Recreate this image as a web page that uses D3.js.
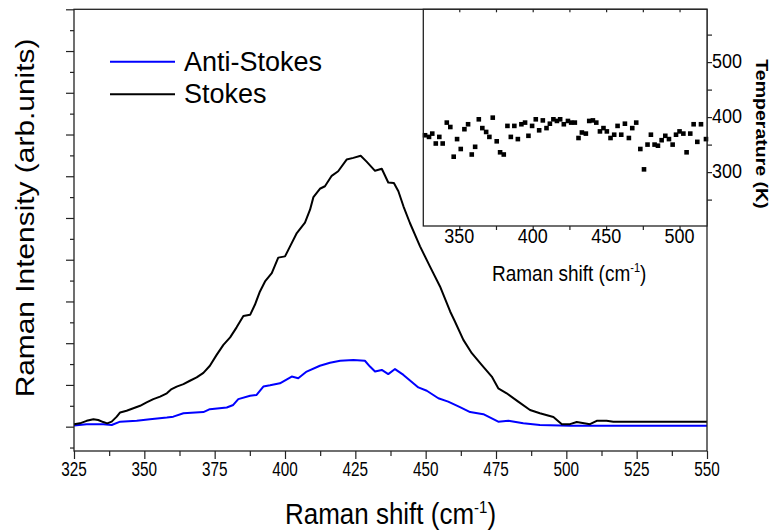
<!DOCTYPE html>
<html>
<head>
<meta charset="utf-8">
<script src="https://d3js.org/d3.v7.min.js"></script>
<style>
  body { margin: 0; background: #fff; }
  svg { display: block; }
  text { font-family: "Liberation Sans", Arial, sans-serif; fill: #000; }
</style>
</head>
<body>
<svg id="chart" width="772" height="532"></svg>
<script>
// Main spectra (Raman shift in cm-1, intensity in arb. units)
const stokesShift = [325,327.1,329.5,331.9,333.6,335.4,336.8,338.4,340.2,341.4,343.7,346.1,348.5,350.8,353.2,355.6,358,359.7,361.5,363.9,366.2,368.6,371,373.3,375.7,378.1,380.5,382.8,385.2,387.6,389.3,391.1,392.9,395.3,397.6,400,401.8,404.2,407.1,408.9,410.1,412.4,414.2,416.6,418.9,421.9,424.3,426.9,429,432,434.4,436.7,438.7,440.3,442.1,444.4,448,451.5,455.1,458.7,460.4,463.4,466.4,469.9,473.5,475.8,478.8,482.9,487.1,490.6,495.4,498.4,501.3,503.7,508.4,510.8,514.3,516.7,550]
const stokesIntensity = [0.06,0.08,0.14,0.18,0.16,0.11,0.08,0.12,0.24,0.34,0.38,0.44,0.50,0.58,0.66,0.72,0.80,0.90,0.96,1.02,1.10,1.18,1.29,1.46,1.72,1.96,2.14,2.38,2.65,2.68,2.92,3.24,3.48,3.68,4.05,4.08,4.32,4.64,4.89,5.20,5.50,5.70,5.76,6.01,6.12,6.40,6.44,6.49,6.35,6.13,6.18,5.85,5.84,5.64,5.28,4.88,4.32,3.84,3.36,2.76,2.52,2.08,1.76,1.48,1.20,0.92,0.80,0.60,0.40,0.32,0.23,0.06,0.06,0.11,0.06,0.14,0.14,0.12,0.12]
const antiShift = [325,329.5,335.4,338.4,341.4,347.3,352,358,360.3,363.9,371,373.3,379.3,381.6,383.4,387.6,389.9,392.3,394.7,398.2,402.4,404.7,407.7,412.4,416,419.6,424.3,428.4,430.2,432,434.4,436.7,439.1,442.1,447.4,450.4,454.5,458,462.2,465.8,470.5,475.8,479.4,484.7,490.6,501.3,550]
const antiIntensity = [0.03,0.06,0.06,0.04,0.12,0.14,0.18,0.22,0.24,0.32,0.35,0.42,0.46,0.52,0.66,0.74,0.76,0.96,0.99,1.04,1.20,1.16,1.32,1.46,1.53,1.58,1.60,1.58,1.44,1.32,1.36,1.26,1.38,1.24,0.94,0.86,0.68,0.60,0.47,0.35,0.30,0.12,0.14,0.08,0.04,0.02,0.02]

// Inset: temperature from Stokes / anti-Stokes ratio
const insetShift = [326.7,329.4,331.6,334.0,336.4,338.7,341.5,343.9,346.2,348.5,351.0,353.5,356.0,358.5,360.8,363.3,365.7,368.3,370.5,372.8,375.5,377.8,380.3,382.8,385.1,387.5,389.9,392.3,394.8,397.1,399.6,402.1,404.4,406.9,409.4,411.7,414.1,416.5,418.7,421.2,424.0,426.2,428.7,431.2,433.5,436.2,438.5,441.0,443.3,445.8,448.2,450.5,453.0,455.5,457.8,460.3,462.8,465.5,467.8,470.5,473.3,475.8,478.2,480.5,483.0,485.3,487.8,490.3,492.8,495.3,497.6,500.0,502.6,504.8,507.3,509.6,512.1,514.6,518.0]
const temperature = [367,364,370,352,364,352,390,382,328,360,342,378,387,332,346,396,380,373,364,399,356,336,332,384,364,384,360,387,390,366,384,396,376,394,380,388,396,393,396,387,393,390,390,362,372,370,393,394,390,374,380,374,362,368,384,368,388,362,380,390,342,305,350,368,350,348,358,366,360,350,368,374,370,336,370,387,355,387,360]

const mainTicks = [325,350,375,400,425,450,475,500,525,550]
const insetTicks = [350,400,450,500]
const tempTicks = [300,400,500]

const series = [
    {name: "Anti-Stokes", color: "#0000ff", x: antiShift, y: antiIntensity},
    {name: "Stokes", color: "#000000", x: stokesShift, y: stokesIntensity}
]

const params = {
    main: {left: 74, right: 707, top: 9.3, bottom: 451},
    inset: {left: 423.3, right: 707, top: 9.3, bottom: 226},
    axisColor: "#222",
    sy: 1.15 // source picture is a bit stretched vertically
}

const svg = d3.select("#chart")
svg.append("rect").attr("width", 772).attr("height", 532).attr("fill", "white")

const m = params.main
const x = d3.scaleLinear().domain([325, 550]).range([m.left, m.right])
const y = d3.scaleLinear().domain([-0.583, 10]).range([m.bottom, m.top])

drawMain()
drawInset()
drawLegend()

function label(g, tx, ty, str, size, anchor, rot, sx){
    return g.append("text")
        .attr("transform", "translate(" + tx + "," + ty + ") scale(" + (sx || 1) + "," + params.sy + ")" + (rot ? " rotate(" + rot + ")" : ""))
        .attr("text-anchor", anchor || "middle")
        .style("font-size", size + "px")
        .text(str)
}

function drawMain(){
    const g = svg.append("g")

    // bottom axis, major + minor ticks
    const minorX = d3.range(337.5, 550, 25)
    g.append("g").attr("transform", "translate(0," + m.bottom + ")")
        .call(d3.axisBottom(x).tickValues(minorX).tickSize(5).tickFormat(""))
    g.append("g").attr("transform", "translate(0," + m.bottom + ")")
        .call(d3.axisBottom(x).tickValues(mainTicks).tickSize(8).tickFormat(""))

    mainTicks.forEach(function(t){
        label(g, x(t), 476, t, 17, "middle", 0, 0.9)
    })

    // left axis, no labels
    g.append("g").attr("transform", "translate(" + m.left + ",0)")
        .call(d3.axisLeft(y).tickValues(d3.range(-0.5, 10, 1)).tickSize(4).tickFormat(""))
    g.append("g").attr("transform", "translate(" + m.left + ",0)")
        .call(d3.axisLeft(y).tickValues(d3.range(0, 10.5, 1)).tickSize(8).tickFormat(""))

    g.selectAll(".domain").remove()
    g.selectAll(".tick line").attr("stroke", params.axisColor).attr("stroke-width", 1.2)

    // curves
    const line = d3.line().x(d => x(d[0])).y(d => y(d[1]))
    series.forEach(function(s){
        g.append("path")
            .datum(s.x.map((v, i) => [v, s.y[i]]))
            .attr("d", line)
            .attr("fill", "none")
            .attr("stroke", s.color)
            .attr("stroke-width", 2)
            .attr("stroke-linejoin", "round")
    })

    // frame
    g.append("rect")
        .attr("x", m.left).attr("y", m.top)
        .attr("width", m.right - m.left).attr("height", m.bottom - m.top)
        .attr("fill", "none").attr("stroke", params.axisColor).attr("stroke-width", 1.3)

    // titles
    const xt = label(g, (m.left + m.right)/2, 524, "Raman shift (cm", 26)
    xt.append("tspan").attr("dy", -10).style("font-size", "15px").text("-1")
    xt.append("tspan").attr("dy", 10).text(")")

    label(g, 34, 218, "Raman Intensity (arb.units)", 26, "middle", -90)
}

function drawInset(){
    const n = params.inset
    const ix = d3.scaleLinear().domain([325.5, 518.7]).range([n.left, n.right])
    const iy = d3.scaleLinear().domain([202, 596]).range([n.bottom, n.top])
    const g = svg.append("g")

    g.append("rect")
        .attr("x", n.left).attr("y", n.top)
        .attr("width", n.right - n.left).attr("height", n.bottom - n.top)
        .attr("fill", "white")

    const allX = d3.range(350, 519, 25)
    g.append("g").attr("transform", "translate(0," + n.bottom + ")")
        .call(d3.axisBottom(ix).tickValues(allX).tickSize(4).tickFormat(""))
    g.append("g").attr("transform", "translate(0," + n.top + ")")
        .call(d3.axisBottom(ix).tickValues(allX).tickSize(3).tickFormat(""))
    g.append("g").attr("transform", "translate(" + n.right + ",0)")
        .call(d3.axisRight(iy).tickValues(d3.range(250, 600, 50)).tickSize(5).tickFormat(""))
    g.selectAll(".domain").remove()
    g.selectAll(".tick line").attr("stroke", params.axisColor).attr("stroke-width", 1.2)

    insetTicks.forEach(function(t){
        label(g, ix(t), 243, t, 18)
    })
    tempTicks.forEach(function(t){
        label(g, n.right + 5, iy(t) + 6, t, 18, "start")
    })

    g.selectAll("rect.pt")
        .data(insetShift.map((v, i) => [v, temperature[i]]))
        .join("rect")
        .attr("class", "pt")
        .attr("x", d => ix(d[0]) - 2.3)
        .attr("y", d => iy(d[1]) - 2.3)
        .attr("width", 4.6).attr("height", 4.6)
        .attr("fill", "black")

    g.append("rect")
        .attr("x", n.left).attr("y", n.top)
        .attr("width", n.right - n.left).attr("height", n.bottom - n.top)
        .attr("fill", "none").attr("stroke", params.axisColor).attr("stroke-width", 1.3)

    const t = label(g, (n.left + n.right)/2 + 4, 281, "Raman shift (cm", 19)
    t.append("tspan").attr("dy", -8).style("font-size", "11px").text("-1")
    t.append("tspan").attr("dy", 8).text(")")

    label(g, 756, 134, "Temperature (K)", 17, "middle", 90).style("font-weight", "bold")
}

function drawLegend(){
    const g = svg.append("g")
    const rows = [61.7, 94.3]
    series.forEach(function(s, i){
        g.append("line")
            .attr("x1", 110).attr("x2", 175)
            .attr("y1", rows[i]).attr("y2", rows[i])
            .attr("stroke", s.color).attr("stroke-width", 2)
        g.append("text")
            .attr("x", 184).attr("y", rows[i] + 9)
            .style("font-size", "27px")
            .text(s.name)
    })
}
</script>
</body>
</html>
